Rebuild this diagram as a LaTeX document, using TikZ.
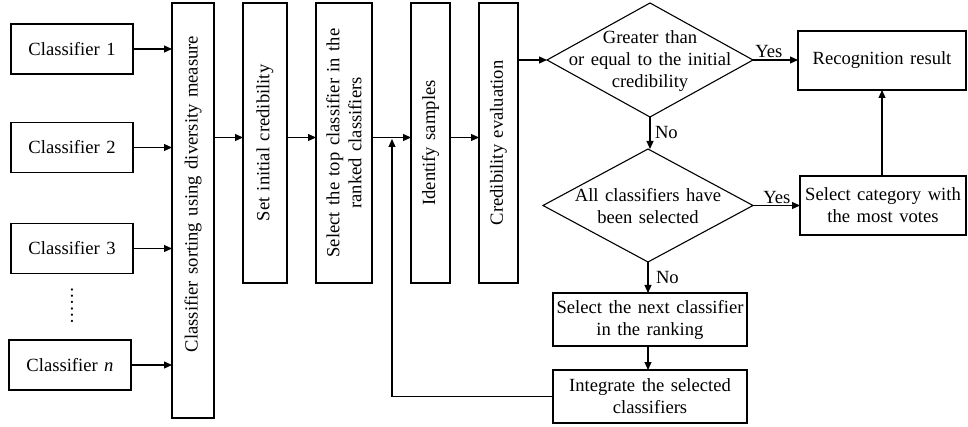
\documentclass[tikz,border=0pt]{standalone}
\usepackage{fontspec}
\setmainfont{Liberation Serif}[WordSpace=1.4]
\usetikzlibrary{arrows.meta,shapes.geometric}
\begin{document}
\begin{tikzpicture}[x=1pt,y=-1pt,
  font=\fontsize{18.6}{22}\selectfont,
  every node/.style={inner sep=0pt, outer sep=0pt},
  box/.style={draw, line width=1.1pt, align=center},
  dia/.style={draw, line width=1.1pt, diamond},
  arr/.style={draw, line width=1.1pt, -{Triangle[length=8pt,width=7pt]}},
  lbl/.style={align=center}
]
\useasboundingbox (0,0) rectangle (968,427);
% classifiers
\node[box, minimum width=122pt, minimum height=50pt] (c1) at (72,49) {Classifier 1};
\node[box, minimum width=122pt, minimum height=50pt] (c2) at (72,147.5) {Classifier 2};
\node[box, minimum width=122pt, minimum height=50pt] (c3) at (72,248.5) {Classifier 3};
\node[rotate=90] (dots) at (72,306) {……};
\node[box, minimum width=122pt, minimum height=50pt] (cn) at (70,365) {Classifier \textit{n}};
% vertical boxes
\node[box, minimum width=42pt, minimum height=415pt] (b1) at (193,210.5) {};
\node[lbl, rotate=90] (t1) at (193,194) {Classifier sorting using diversity measure};
\node[box, rotate=90, minimum width=280pt, minimum height=44pt] (b2) at (265,143) {Set initial credibility};
\node[box, rotate=90, minimum width=280pt, minimum height=56pt] (b3) at (344,143) {Select the top classifier in the\\ranked classifiers};
\node[box, rotate=90, minimum width=280pt, minimum height=39pt] (b4) at (430.5,143) {Identify samples};
\node[box, rotate=90, minimum width=280pt, minimum height=39pt] (b5) at (498.5,143) {Credibility evaluation};
% diamonds
\node[dia, minimum width=206pt, minimum height=114pt] (d1) at (650,60) {};
\node[lbl] (t d1) at (650,61) {Greater than\\or equal to the initial\\credibility};
\node[dia, minimum width=210pt, minimum height=113pt] (d2) at (648,205.5) {};
\node[lbl] (t d2) at (648,206) {All classifiers have\\been selected};
% right boxes
\node[box, minimum width=168pt, minimum height=59pt] (rr) at (882,60.5) {Recognition result};
\node[box, minimum width=166pt, minimum height=59pt] (sc) at (883,205.5) {Select category with\\the most votes};
\node[box, minimum width=194pt, minimum height=53pt] (sn) at (650,319.5) {Select the next classifier\\in the ranking};
\node[box, minimum width=194pt, minimum height=53pt] (ig) at (650,396.5) {Integrate the selected\\classifiers};
% connectors
\draw[arr] (c1.east) -- (c1.east -| b1.west);
\draw[arr] (c2.east) -- (c2.east -| b1.west);
\draw[arr] (c3.east) -- (c3.east -| b1.west);
\draw[arr] (cn.east) -- (cn.east -| b1.west);
\coordinate (y1) at (0,137.5);
\draw[arr] (b1.east |- y1) -- (b2.north |- y1);
\draw[arr] (b2.south |- y1) -- (b3.north |- y1);
\draw[arr] (b3.south |- y1) -- (b4.north |- y1);
\draw[arr] (b4.south |- y1) -- (b5.north |- y1);
\draw[arr] (b5.south |- d1.west) -- (d1.west);
\draw[arr] (d1.east) -- (d1.east -| rr.west) node[pos=0.05, anchor=south west, yshift=2pt] (yes1) {Yes};
\draw[arr] (d1.south) -- (d2.north -| d1.south) node[pos=0.5, anchor=west, xshift=5pt] (no1) {No};
\draw[arr] (d2.east) -- (d2.east -| sc.west) node[pos=0.22, anchor=south west, yshift=2pt] (yes2) {Yes};
\draw[arr] (sc.north -| rr.south) -- (rr.south);
\draw[arr] (d2.south) -- (d2.south |- sn.north) node[pos=0.5, anchor=west, xshift=8pt] (no2) {No};
\draw[arr] (sn.south -| d2.south) -- (ig.north -| d2.south);
\coordinate (fb) at (392,139);
\draw[arr] (ig.west) -| (fb);
\end{tikzpicture}
\end{document}
